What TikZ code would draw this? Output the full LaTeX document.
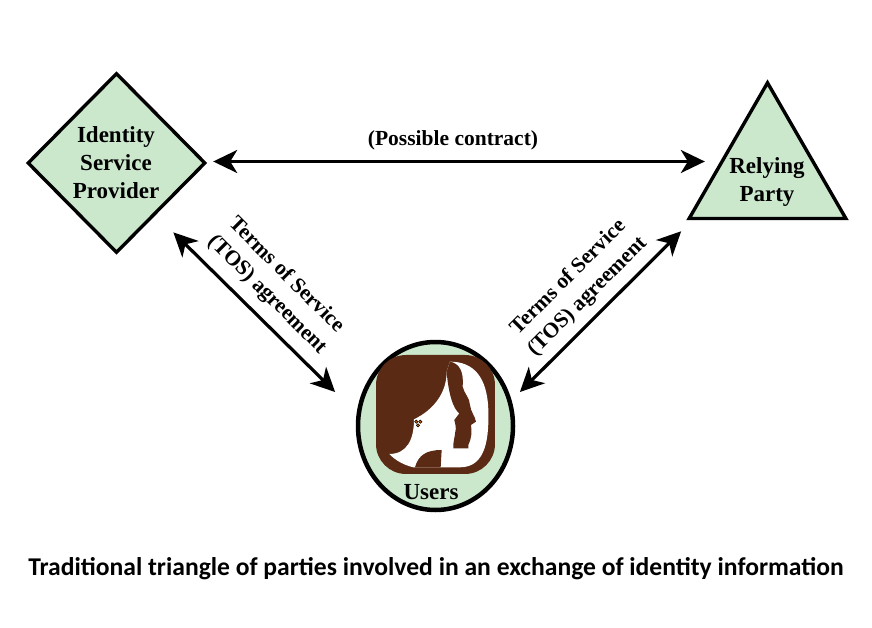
\documentclass[tikz,border=0pt]{standalone}
\usepackage{fontspec}
\setmainfont{Liberation Serif}
\newfontfamily\captionfont{Carlito}
\usetikzlibrary{arrows.meta,shapes.geometric,calc}
\definecolor{partygreen}{HTML}{CBE8CD}
\definecolor{hairbrown}{HTML}{5A2A14}
\tikzset{
  party/.style={draw,line width=3.4pt,fill=partygreen,inner sep=0pt},
  partytext/.style={align=center,font=\fontsize{23}{28}\selectfont\bfseries},
  linktext/.style={align=center,font=\fontsize{21.5}{27}\selectfont\bfseries},
  biarrow/.style={line width=3.2pt,{Stealth[length=24pt,width=23pt,inset=7pt]}-{Stealth[length=24pt,width=23pt,inset=7pt]}}
}
\begin{document}
\begin{tikzpicture}[x=1pt,y=-1pt,line join=miter]
  \useasboundingbox[fill=white] (0,0) rectangle (872,628);
  % parties
  \node[party,diamond,minimum width=178pt,minimum height=180pt] (idp) at (116.5,163) {};
  \node[party,regular polygon,regular polygon sides=3,minimum size=181pt] (rp) at (767.5,173.3) {};
  \node[party,ellipse,line width=4.5pt,minimum width=155pt,minimum height=168pt] (users) at (435.5,426) {};
  \node[partytext] (idptext) at (116,163) {Identity\\Service\\Provider};
  \node[partytext] (rptext) at (767,182) {Relying\\Party};
  \node[partytext] (userstext) at (431,492) {Users};
  % users picture, read in thirds of a pixel
  \begin{scope}[shift={(340,330)},x=0.3333pt,y=-0.3333pt]
    \fill[hairbrown,rounded corners=30pt] (108,75) rectangle (465,432);
    \fill[white] (330,95) .. controls (400,95) and (442,140) .. (445,240)
      .. controls (447,320) and (440,412) .. (360,412) -- (220,412)
      .. controls (190,405) and (165,390) .. (148,372)
      .. controls (200,372) and (222,330) .. (222,268)
      .. controls (280,240) and (320,190) .. (320,125) -- cycle;
    \fill[hairbrown] (330,95) .. controls (358,100) and (372,125) .. (368,170)
      .. controls (372,190) and (390,205) .. (390,225)
      .. controls (392,245) and (405,258) .. (408,275)
      -- (393,285) .. controls (396,305) and (395,325) .. (385,345)
      -- (385,355) -- (340,355) .. controls (338,340) and (345,320) .. (346,305)
      .. controls (350,295) and (345,280) .. (343,270)
      -- (358,250) .. controls (340,238) and (325,190) .. (320,125) -- cycle;
    \fill[hairbrown] (225,412) .. controls (235,375) and (260,360) .. (305,360)
      -- (302,412) -- cycle;
    \fill[orange!80!black,draw=black,line width=0.5pt] (229,275) circle[radius=5];
    \fill[orange!80!black,draw=black,line width=0.5pt] (241,275) circle[radius=5];
    \fill[orange!80!black,draw=black,line width=0.5pt] (234,286) circle[radius=5];
  \end{scope}
  % connectors
  \coordinate (idpright) at ($(idp.east)+(0,-1.5)$);
  \coordinate (idpend) at ($(idp.south east)+(11.5,23.5)$);
  \coordinate (usersleft) at ($(users.north west)+(-44,27)$);
  \coordinate (usersright) at ($(users.north east)+(28,27)$);
  \coordinate (rpend) at ($(rp.corner 2)+(-5,11)$);
  \draw[biarrow,shorten <=6pt,shorten >=22pt] (idpright) -- (idpright -| rp.side 1);
  \draw[biarrow] (idpend) -- (usersleft);
  \draw[biarrow] (usersright) -- (rpend);
  % labels
  \node[linktext] (contract) at (453,140) {(Possible contract)};
  \node[linktext,rotate=-45] (tosleft) at (277,285) {Terms of Service\\(TOS) agreement};
  \node[linktext,rotate=45] (tosright) at (578,287) {Terms of Service\\(TOS) agreement};
  \node[font=\captionfont\fontsize{25.6}{28}\selectfont\bfseries] (title) at (436,569) {Traditional triangle of parties involved in an exchange of identity information};
\end{tikzpicture}
\end{document}
